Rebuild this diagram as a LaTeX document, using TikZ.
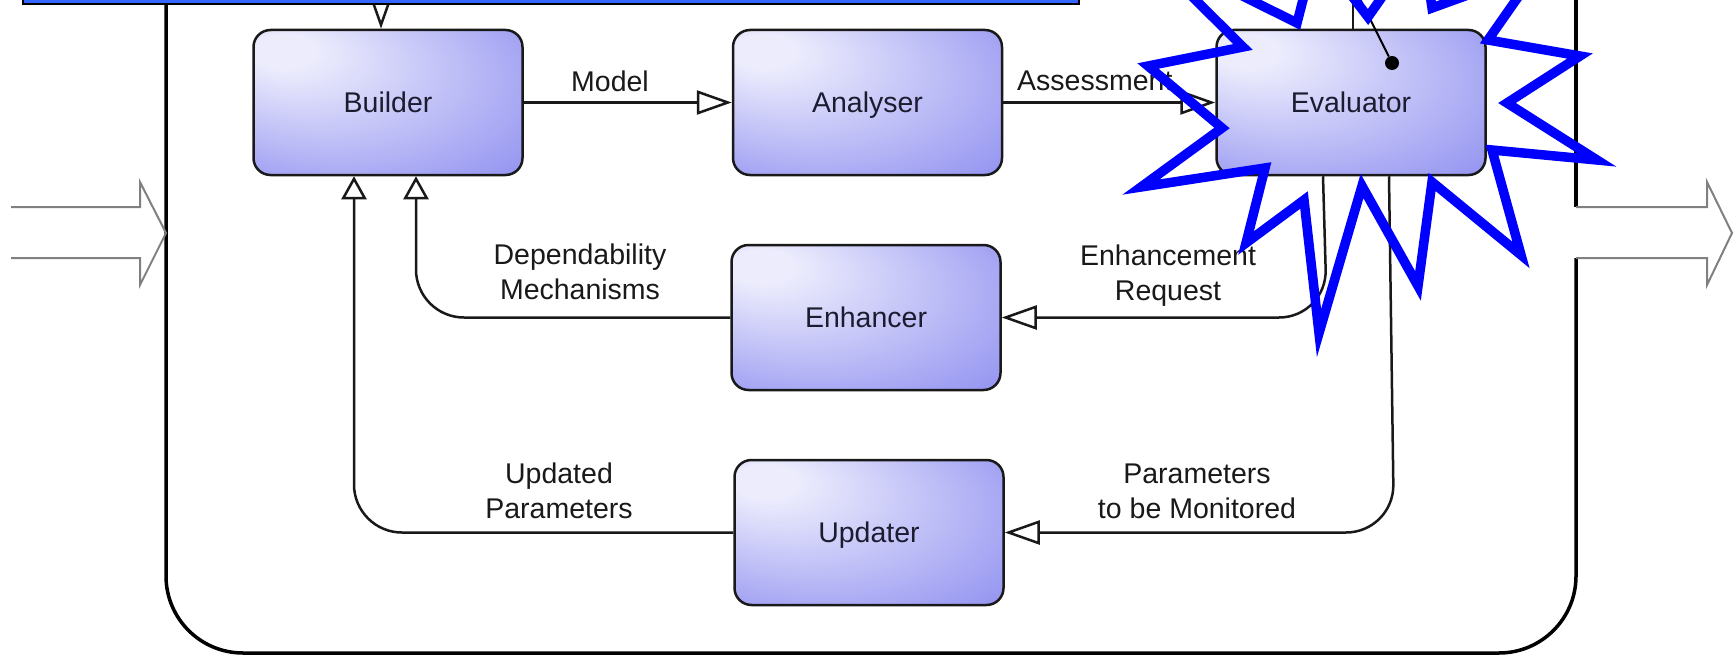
\documentclass[tikz,border=0pt]{standalone}
\usepackage{fontspec}
\setmainfont{Liberation Sans}
\usetikzlibrary{arrows.meta}
\definecolor{boxlight}{RGB}{236,236,253}
\definecolor{boxdark}{RGB}{124,124,238}
\definecolor{barblue}{RGB}{51,102,255}
\definecolor{boxtext}{RGB}{28,28,48}
\definecolor{iogray}{RGB}{128,128,128}
\pgfdeclareradialshading{boxshade}{\pgfpoint{-22bp}{20bp}}{color(0bp)=(boxlight); color(6bp)=(boxlight); color(50bp)=(boxdark)}
\tikzset{
  compbox/.style={draw=black!90, line width=2.5bp, rounded corners=17bp, shade, shading=boxshade,
    minimum width=269bp, minimum height=145bp, inner sep=0pt,
    font=\fontsize{28.5bp}{34bp}\selectfont, text=boxtext, text height=19.5bp, text depth=0bp},
  lbl/.style={font=\fontsize{28.5bp}{34bp}\selectfont, inner sep=0pt, anchor=base, text=black!90},
  conn/.style={line width=2.5bp, draw=black!90},
  arrH/.style={-{Triangle[length=35bp,width=24bp,fill=white]}},
  arrV/.style={-{Triangle[length=23bp,width=25bp,fill=white]}},
  container/.style={line width=3.5bp, rounded corners=77bp},
  ioarrow/.style={draw=iogray, line width=2bp, line join=miter},
  burst/.style={draw=blue, line width=9.5bp, line join=miter},
}
\begin{document}
\begin{tikzpicture}[x=1bp,y=-1bp]
\useasboundingbox (0,0) rectangle (1736,656);
\clip (0,0) rectangle (1736,656);

% container
\draw[container] (166,-10) -- (166,653) -- (1576,653) -- (1576,258);
\draw[container] (1576,207) -- (1576,-10);

% input / output arrows
\draw[ioarrow] (11,207) -- (140,207) -- (140,182) -- (166,233) -- (140,285) -- (140,258) -- (11,258);
\draw[ioarrow] (1576,207) -- (1707,207) -- (1707,182) -- (1732,233) -- (1707,285) -- (1707,258) -- (1576,258);

% components
\node[compbox] (builder) at (388,102.5) {Builder};
\node[compbox] (analyser) at (867.5,102.5) {Analyser};
\node[compbox] (evaluator) at (1351,102.5) {Evaluator};
\node[compbox] (enhancer) at (866,317.5) {Enhancer};
\node[compbox] (updater) at (869,532.5) {Updater};

% connectors
\draw[conn, arrH] (builder.east) -- (analyser.west);
\draw[conn, arrH] (analyser.east) -- (evaluator.west);
\coordinate (eL) at ([xshift=-24bp]evaluator.south);
\draw[conn, arrH, rounded corners=48bp] ([xshift=-28bp]evaluator.south) -- (eL |- enhancer.east) -- (enhancer.east);
\coordinate (eR) at ([xshift=43bp]evaluator.south);
\draw[conn, arrH, rounded corners=48bp] ([xshift=38bp]evaluator.south) -- (eR |- updater.east) -- (updater.east);
\coordinate (bA) at ([xshift=28bp]builder.south);
\draw[conn, arrV, rounded corners=48bp] (enhancer.west) -- (bA |- enhancer.west) -- (bA);
\coordinate (bB) at ([xshift=-34bp]builder.south);
\draw[conn, arrV, rounded corners=48bp] (updater.west) -- (bB |- updater.west) -- (bB);
\coordinate (topin) at (381,-40);
\draw[conn, arrH] (topin) -- (topin |- builder.north);
\coordinate (evtop) at (1353,-10);
\draw[conn] (evtop) -- (evtop |- evaluator.north);

% labels
\node[lbl] (lModel) at (610,92) {Model};
\node[lbl, anchor=base west] (lAssess) at (1017,91) {Assessment};
\node[lbl] (lDep1) at (580,264) {Dependability};
\node[lbl] (lDep2) at (580,299) {Mechanisms};
\node[lbl] (lEnh1) at (1168,265) {Enhancement};
\node[lbl] (lEnh2) at (1168,300) {Request};
\node[lbl] (lUpd1) at (559,483) {Updated};
\node[lbl] (lUpd2) at (559,518) {Parameters};
\node[lbl] (lMon1) at (1197,483) {Parameters};
\node[lbl] (lMon2) at (1197,518) {to be Monitored};

% top bar
\draw[fill=barblue, line width=2.2bp] (23,-20) rectangle (1079,4);

% pin
\coordinate (pintop) at (1358,-5);
\node[circle, fill=black, inner sep=0pt, minimum size=14bp] (pin) at (1392,63) {};
\draw[line width=2bp] (pintop) -- (pin);

% burst
\draw[burst] (1140,-55) -- (1243,47) -- (1148,66) -- (1222,128) -- (1141,187) -- (1265,168)
  -- (1246,243) -- (1304,200) -- (1319,333) -- (1362,186) -- (1418,286) -- (1432,182)
  -- (1521,255) -- (1492,150) -- (1597,160) -- (1507,103) -- (1580,56) -- (1488,40)
  -- (1537,-30) -- (1432,8) -- (1422,-60) -- (1368,17) -- (1316,-51) -- (1297,23) -- cycle;
\end{tikzpicture}
\end{document}
